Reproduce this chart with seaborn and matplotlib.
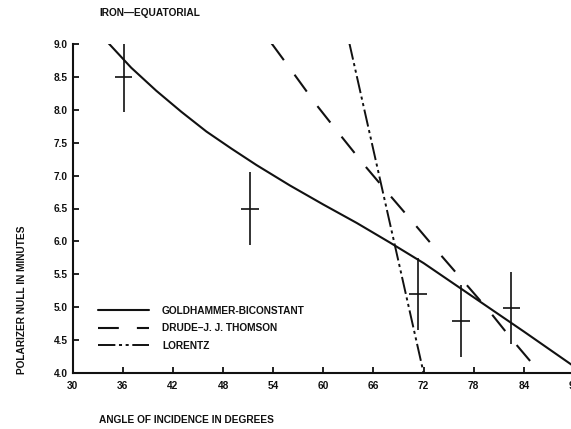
import matplotlib
matplotlib.use("Agg")
import matplotlib.pyplot as plt
import seaborn as sns
import numpy as np
import pandas as pd

# ---- data ----
gold_x = [34.3, 37.0, 40.0, 43.0, 46.0, 49.0, 52.0, 56.0, 60.0, 64.0, 68.0, 72.0, 78.0, 84.0, 90.0]
gold_y = [9.01, 8.64, 8.29, 7.97, 7.67, 7.41, 7.16, 6.85, 6.56, 6.28, 5.98, 5.67, 5.15, 4.63, 4.10]

drude_x = [53.8, 56.4, 59.2, 62.0, 64.9, 67.9, 70.8, 73.8, 76.8, 79.8, 82.7, 85.9]
drude_y = [9.01, 8.56, 8.07, 7.62, 7.16, 6.71, 6.28, 5.83, 5.39, 4.95, 4.49, 4.01]

lor_x = [63.1, 72.0]
lor_y = [9.02, 4.00]

meas_x = [36.1, 51.2, 71.3, 76.5, 82.5]
meas_y = [8.50, 6.50, 5.20, 4.79, 4.99]
meas_yerr = [0.53, 0.55, 0.55, 0.54, 0.55]
meas_xerr = [1.05, 1.05, 1.05, 1.05, 1.05]

x_ticks = [30, 36, 42, 48, 54, 60, 66, 72, 78, 84, 90]
y_ticks = [4.0, 4.5, 5.0, 5.5, 6.0, 6.5, 7.0, 7.5, 8.0, 8.5, 9.0]

labels = ["GOLDHAMMER-BICONSTANT", "DRUDE\u2013J. J. THOMSON", "LORENTZ"]
title = "IRON\u2014EQUATORIAL"
xlabel = "ANGLE OF INCIDENCE IN DEGREES"
ylabel = "POLARIZER NULL IN MINUTES"

# ---- style ----
sns.set_style("ticks")
plt.rcParams['font.family'] = ['Liberation Sans', 'DejaVu Sans']
plt.rcParams['font.weight'] = 'bold'
plt.rcParams['lines.scale_dashes'] = False

FS = 7.3
W, H = 571, 429
fig = plt.figure(figsize=(W / 100, H / 100), dpi=100)
left_px, right_px, top_px, bot_px = 72.7, 574.0, 44.0, 373.0
ax = fig.add_axes([left_px / W, 1 - bot_px / H, (right_px - left_px) / W, (bot_px - top_px) / H])

ink = "#111111"
gold_df = pd.DataFrame({"x": gold_x, "y": gold_y})
drude_df = pd.DataFrame({"x": drude_x, "y": drude_y})
lor_df = pd.DataFrame({"x": lor_x, "y": lor_y})

sns.lineplot(data=gold_df, x="x", y="y", ax=ax, color=ink, lw=1.5, sort=False,
             estimator=None, label=labels[0])
sns.lineplot(data=drude_df, x="x", y="y", ax=ax, color=ink, lw=1.5, sort=False,
             estimator=None, label=labels[1], linestyle=(0, (15.0, 13.0)))
sns.lineplot(data=lor_df, x="x", y="y", ax=ax, color=ink, lw=1.4, sort=False,
             estimator=None, label=labels[2],
             linestyle=(0, (12.5, 2.6, 2.2, 2.6, 2.2, 2.6)))

ax.errorbar(meas_x, meas_y, yerr=meas_yerr, xerr=meas_xerr, fmt='none',
            ecolor=ink, elinewidth=1.2, capsize=0)

ax.set_xlim(30, 90)
ax.set_ylim(4.0, 9.0)
ax.set_xticks(x_ticks)
ax.set_yticks(y_ticks)
ax.set_xticklabels([str(t) for t in x_ticks])
ax.set_yticklabels([f"{t:.1f}" for t in y_ticks])
ax.tick_params(axis='both', direction='in', length=4.5, width=1.3, color=ink,
               labelsize=FS, labelcolor=ink)
ax.tick_params(axis='x', pad=6)
ax.tick_params(axis='y', pad=3.5)
for lab in ax.get_xticklabels() + ax.get_yticklabels():
    lab.set_fontweight('bold')
sns.despine(ax=ax)
for s in ['left', 'bottom']:
    ax.spines[s].set_linewidth(1.5)
    ax.spines[s].set_color(ink)
ax.set_xlabel("")
ax.set_ylabel("")

leg = ax.legend(loc='upper left', bbox_to_anchor=(0.0505, 0.204), frameon=False,
                fontsize=FS, handlelength=5.0, handletextpad=1.3,
                labelspacing=0.73, borderpad=0, borderaxespad=0)
for t in leg.get_texts():
    t.set_fontweight('bold')
    t.set_color(ink)

fig.text(99 / W, 1 - 12.7 / H, title, ha='left', va='center', fontsize=FS,
         fontweight='bold', color=ink)
fig.text(99 / W, 1 - 420 / H, xlabel, ha='left', va='center', fontsize=FS,
         fontweight='bold', color=ink)
fig.text(22 / W, 1 - 299.5 / H, ylabel, ha='center', va='center', rotation=90,
         fontsize=FS, fontweight='bold', color=ink)

fig.savefig("out.png", dpi=100)
